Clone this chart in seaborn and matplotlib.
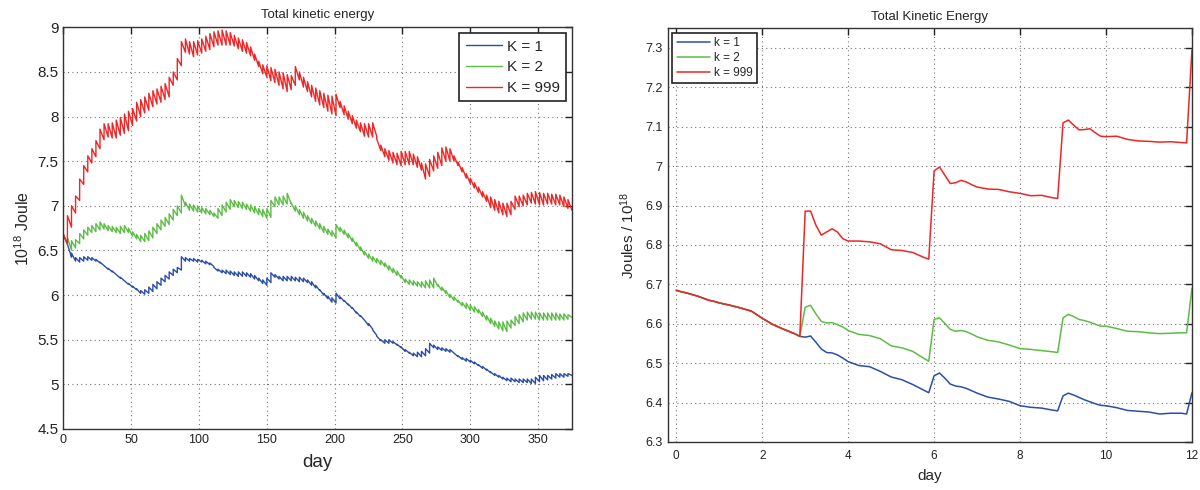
import numpy as np
import pandas as pd
import matplotlib
matplotlib.use("Agg")
import matplotlib.pyplot as plt
import seaborn as sns
from matplotlib.ticker import FormatStrFormatter, FuncFormatter

# ---------- left panel: one saw tooth every 3 days, value at tooth start / tooth end ----------
k1_top = [6.68, 6.57, 6.47, 6.42, 6.42, 6.43, 6.43, 6.42, 6.40, 6.37,
          6.33, 6.30, 6.27, 6.23, 6.20, 6.16, 6.13, 6.10, 6.07, 6.05,
          6.06, 6.09, 6.12, 6.15, 6.19, 6.22, 6.26, 6.29, 6.31, 6.43,
          6.42, 6.41, 6.41, 6.40, 6.39, 6.38, 6.36, 6.31, 6.29, 6.28,
          6.28, 6.27, 6.26, 6.26, 6.26, 6.25, 6.24, 6.22, 6.19, 6.17,
          6.19, 6.25, 6.23, 6.21, 6.21, 6.21, 6.21, 6.20, 6.20, 6.19,
          6.17, 6.15, 6.11, 6.06, 6.02, 5.99, 5.97, 6.02, 5.98, 5.94,
          5.90, 5.86, 5.81, 5.77, 5.72, 5.68, 5.61, 5.54, 5.50, 5.50,
          5.50, 5.48, 5.45, 5.42, 5.39, 5.36, 5.35, 5.36, 5.37, 5.40,
          5.46, 5.44, 5.42, 5.41, 5.40, 5.39, 5.35, 5.32, 5.30, 5.29,
          5.27, 5.25, 5.22, 5.20, 5.17, 5.14, 5.12, 5.10, 5.08, 5.07,
          5.07, 5.06, 5.06, 5.06, 5.06, 5.06, 5.08, 5.10, 5.10, 5.10,
          5.11, 5.12, 5.12, 5.12, 5.12]
k1_bot = [6.57, 6.425, 6.38, 6.37, 6.38, 6.39, 6.39, 6.38, 6.36, 6.33,
          6.29, 6.26, 6.23, 6.19, 6.16, 6.12, 6.09, 6.06, 6.02, 6.01,
          6.02, 6.04, 6.07, 6.11, 6.15, 6.18, 6.22, 6.25, 6.28, 6.38,
          6.38, 6.38, 6.37, 6.37, 6.35, 6.34, 6.32, 6.27, 6.25, 6.24,
          6.23, 6.22, 6.21, 6.21, 6.21, 6.20, 6.18, 6.16, 6.13, 6.11,
          6.14, 6.20, 6.18, 6.16, 6.16, 6.16, 6.16, 6.15, 6.15, 6.14,
          6.11, 6.08, 6.05, 6.00, 5.96, 5.92, 5.91, 5.96, 5.93, 5.89,
          5.85, 5.80, 5.76, 5.72, 5.66, 5.62, 5.55, 5.49, 5.46, 5.46,
          5.46, 5.44, 5.41, 5.37, 5.35, 5.32, 5.31, 5.31, 5.32, 5.35,
          5.41, 5.39, 5.38, 5.37, 5.36, 5.35, 5.31, 5.28, 5.26, 5.25,
          5.23, 5.21, 5.18, 5.16, 5.13, 5.10, 5.08, 5.06, 5.04, 5.03,
          5.03, 5.02, 5.02, 5.02, 5.01, 5.01, 5.03, 5.04, 5.05, 5.06,
          5.07, 5.08, 5.08, 5.09, 5.10]

k2_top = [6.68, 6.645, 6.61, 6.62, 6.69, 6.73, 6.76, 6.78, 6.80, 6.82,
          6.80, 6.78, 6.77, 6.76, 6.77, 6.78, 6.75, 6.71, 6.68, 6.67,
          6.69, 6.72, 6.76, 6.80, 6.84, 6.87, 6.91, 6.96, 7.00, 7.12,
          7.04, 7.02, 7.01, 7.00, 6.98, 6.97, 6.95, 6.92, 6.97, 7.01,
          7.04, 7.07, 7.06, 7.05, 7.04, 7.02, 7.01, 6.99, 6.97, 6.96,
          6.97, 7.06, 7.10, 7.10, 7.11, 7.14, 7.03, 7.00, 6.96, 6.93,
          6.89, 6.86, 6.83, 6.80, 6.77, 6.74, 6.72, 6.79, 6.76, 6.73,
          6.69, 6.64, 6.59, 6.54, 6.49, 6.46, 6.43, 6.41, 6.39, 6.36,
          6.33, 6.30, 6.27, 6.22, 6.18, 6.17, 6.16, 6.15, 6.15, 6.16,
          6.17, 6.19, 6.12, 6.09, 6.05, 6.01, 5.98, 5.94, 5.92, 5.91,
          5.89, 5.87, 5.84, 5.81, 5.77, 5.74, 5.71, 5.70, 5.70, 5.71,
          5.72, 5.76, 5.78, 5.80, 5.81, 5.81, 5.81, 5.80, 5.80, 5.80,
          5.80, 5.80, 5.79, 5.79, 5.78]
k2_bot = [6.57, 6.505, 6.527, 6.577, 6.63, 6.67, 6.70, 6.71, 6.73, 6.74,
          6.72, 6.71, 6.70, 6.69, 6.70, 6.70, 6.66, 6.63, 6.60, 6.60,
          6.61, 6.64, 6.69, 6.73, 6.77, 6.79, 6.84, 6.89, 6.92, 7.00,
          6.95, 6.94, 6.93, 6.92, 6.91, 6.90, 6.88, 6.86, 6.89, 6.93,
          6.96, 6.99, 6.98, 6.97, 6.96, 6.94, 6.92, 6.90, 6.88, 6.86,
          6.87, 6.99, 7.01, 7.01, 7.02, 7.02, 6.94, 6.90, 6.86, 6.83,
          6.80, 6.77, 6.74, 6.70, 6.68, 6.66, 6.64, 6.71, 6.68, 6.64,
          6.60, 6.55, 6.50, 6.45, 6.41, 6.38, 6.36, 6.34, 6.32, 6.28,
          6.25, 6.22, 6.19, 6.14, 6.12, 6.11, 6.10, 6.09, 6.08, 6.08,
          6.08, 6.10, 6.05, 6.02, 5.97, 5.94, 5.92, 5.88, 5.85, 5.83,
          5.81, 5.80, 5.76, 5.72, 5.68, 5.65, 5.62, 5.60, 5.59, 5.63,
          5.66, 5.68, 5.70, 5.72, 5.73, 5.73, 5.72, 5.72, 5.72, 5.72,
          5.72, 5.72, 5.72, 5.73, 5.75]

k999_top = [6.68, 6.89, 7.00, 7.11, 7.30, 7.45, 7.56, 7.64, 7.73, 7.86,
            7.92, 7.92, 7.93, 7.96, 7.99, 8.03, 8.06, 8.09, 8.16, 8.19,
            8.22, 8.26, 8.29, 8.31, 8.34, 8.37, 8.44, 8.50, 8.65, 8.84,
            8.87, 8.84, 8.84, 8.85, 8.87, 8.90, 8.93, 8.95, 8.96, 8.97,
            8.96, 8.94, 8.91, 8.88, 8.86, 8.83, 8.78, 8.70, 8.62, 8.58,
            8.57, 8.55, 8.53, 8.50, 8.49, 8.47, 8.46, 8.56, 8.50, 8.44,
            8.39, 8.35, 8.32, 8.29, 8.26, 8.24, 8.23, 8.25, 8.17, 8.12,
            8.06, 8.01, 7.96, 7.93, 7.92, 7.92, 7.93, 7.75, 7.68, 7.64,
            7.62, 7.60, 7.59, 7.61, 7.61, 7.61, 7.58, 7.55, 7.48, 7.47,
            7.52, 7.56, 7.60, 7.65, 7.66, 7.64, 7.56, 7.49, 7.43, 7.36,
            7.31, 7.26, 7.21, 7.16, 7.12, 7.10, 7.07, 7.05, 7.03, 7.03,
            7.05, 7.11, 7.11, 7.12, 7.14, 7.15, 7.16, 7.15, 7.14, 7.14,
            7.13, 7.13, 7.12, 7.10, 7.07]
k999_bot = [6.57, 6.76, 6.92, 7.06, 7.24, 7.38, 7.48, 7.55, 7.64, 7.74,
            7.77, 7.76, 7.76, 7.79, 7.81, 7.84, 7.90, 7.95, 8.00, 8.04,
            8.07, 8.11, 8.14, 8.16, 8.19, 8.22, 8.35, 8.41, 8.57, 8.72,
            8.70, 8.67, 8.69, 8.71, 8.73, 8.75, 8.78, 8.80, 8.80, 8.80,
            8.80, 8.79, 8.76, 8.73, 8.71, 8.68, 8.63, 8.56, 8.48, 8.44,
            8.40, 8.38, 8.35, 8.31, 8.28, 8.30, 8.35, 8.41, 8.33, 8.28,
            8.22, 8.17, 8.13, 8.10, 8.06, 8.03, 8.01, 8.10, 8.02, 7.97,
            7.92, 7.87, 7.83, 7.78, 7.77, 7.77, 7.78, 7.62, 7.55, 7.51,
            7.48, 7.46, 7.45, 7.46, 7.46, 7.46, 7.43, 7.40, 7.30, 7.33,
            7.39, 7.42, 7.45, 7.50, 7.50, 7.50, 7.45, 7.38, 7.31, 7.25,
            7.20, 7.15, 7.10, 7.05, 6.98, 6.95, 6.92, 6.90, 6.88, 6.90,
            6.96, 6.99, 7.00, 7.01, 7.03, 7.02, 7.01, 7.01, 7.02, 7.02,
            7.01, 7.01, 6.99, 6.97, 6.95]

# ---------- right panel: first 12 days ----------
days_short = [0, 0.125, 0.25, 0.375, 0.5, 0.625, 0.75, 0.875, 1, 1.25, 1.5, 1.75, 2, 2.25, 2.5, 2.75, 2.875,
              3, 3.125, 3.25, 3.375, 3.5, 3.625, 3.75, 3.875, 4, 4.25, 4.5, 4.75, 5, 5.25, 5.5, 5.75, 5.875,
              6, 6.125, 6.25, 6.375, 6.5, 6.625, 6.75, 6.875, 7, 7.25, 7.5, 7.75, 8, 8.25, 8.5, 8.75, 8.875,
              9, 9.125, 9.25, 9.375, 9.5, 9.625, 9.75, 9.875, 10, 10.25, 10.5, 10.75, 11, 11.25, 11.5, 11.75, 11.875,
              12]
first_days = [6.685, 6.681, 6.678, 6.674, 6.670, 6.665, 6.660, 6.657, 6.653, 6.647, 6.640, 6.632, 6.614,
              6.598, 6.586, 6.575, 6.568]
k1_short = first_days + [
    6.566, 6.569, 6.553, 6.536, 6.527, 6.526, 6.521, 6.513, 6.504, 6.494, 6.491, 6.479, 6.465, 6.458, 6.446, 6.432, 6.425,
    6.468, 6.475, 6.462, 6.447, 6.442, 6.440, 6.436, 6.430, 6.424, 6.414, 6.409, 6.403, 6.392, 6.388, 6.386, 6.381, 6.379,
    6.417, 6.424, 6.419, 6.413, 6.407, 6.402, 6.397, 6.393, 6.392, 6.387, 6.380, 6.378, 6.376, 6.371, 6.373, 6.373, 6.371,
    6.425]
k2_short = first_days + [
    6.642, 6.647, 6.625, 6.606, 6.602, 6.603, 6.598, 6.592, 6.583, 6.573, 6.570, 6.562, 6.544, 6.539, 6.530, 6.513, 6.505,
    6.611, 6.615, 6.601, 6.586, 6.581, 6.583, 6.580, 6.574, 6.567, 6.558, 6.554, 6.546, 6.537, 6.535, 6.532, 6.529, 6.527,
    6.615, 6.624, 6.618, 6.611, 6.608, 6.604, 6.599, 6.594, 6.594, 6.588, 6.581, 6.580, 6.577, 6.575, 6.576, 6.577, 6.577,
    6.690]
k999_short = first_days + [
    6.886, 6.886, 6.850, 6.825, 6.833, 6.841, 6.833, 6.816, 6.810, 6.810, 6.808, 6.803, 6.788, 6.786, 6.781, 6.769, 6.764,
    6.988, 6.998, 6.977, 6.956, 6.958, 6.964, 6.960, 6.953, 6.947, 6.942, 6.941, 6.935, 6.931, 6.925, 6.926, 6.920, 6.918,
    7.110, 7.117, 7.104, 7.092, 7.093, 7.095, 7.085, 7.076, 7.075, 7.076, 7.068, 7.064, 7.063, 7.061, 7.062, 7.060, 7.059,
    7.295]

colors = ["#2b4ea6", "#5cbd45", "#ee2626"]


def saw_frame(tops, bots, label):
    start = np.arange(len(tops)) * 3
    x = np.column_stack([start, start + 3]).ravel()
    y = np.column_stack([tops, bots]).ravel()
    return pd.DataFrame({"day": x, "energy": y, "K": label})


def style_axes(ax, tick_size):
    ax.grid(True, color="0.45", linestyle=(0, (1, 3)), linewidth=0.8)
    ax.tick_params(direction="in", length=5, width=1, top=True, right=True,
                   labelsize=tick_size, colors="#222222")
    for s in ax.spines.values():
        s.set_visible(True)
        s.set_color("#333333")
        s.set_linewidth(1.0)


def plot_long_run(ax):
    df = pd.concat([saw_frame(k1_top, k1_bot, "K = 1"),
                    saw_frame(k2_top, k2_bot, "K = 2"),
                    saw_frame(k999_top, k999_bot, "K = 999")])
    sns.lineplot(data=df, x="day", y="energy", hue="K", palette=colors,
                 estimator=None, sort=False, linewidth=1.0, ax=ax)
    ax.set_xlim(0, 375)
    ax.set_ylim(4.5, 9)
    ax.set_xticks(np.arange(0, 351, 50))
    ax.set_yticks(np.arange(4.5, 9.01, 0.5))
    ax.yaxis.set_major_formatter(FuncFormatter(lambda v, p: "%g" % v))
    style_axes(ax, 11)
    ax.tick_params(axis="x", labelsize=9)
    ax.set_title("Total kinetic energy", fontsize=9.5, pad=7)
    ax.set_xlabel("day", fontsize=13.5, labelpad=6)
    ax.set_ylabel(r"10$^{18}$ Joule", fontsize=11.5, labelpad=4)
    leg = ax.legend(loc="upper right", fontsize=11, frameon=True, fancybox=False,
                    handlelength=2.4, handletextpad=0.3, borderpad=0.4,
                    labelspacing=0.45, borderaxespad=0.4, framealpha=1)
    leg.get_frame().set_edgecolor("#222222")
    leg.get_frame().set_linewidth(1.2)


def plot_first_days(ax):
    df = pd.DataFrame({
        "day": days_short * 3,
        "energy": k1_short + k2_short + k999_short,
        "K": ["k = 1"] * len(days_short) + ["k = 2"] * len(days_short) + ["k = 999"] * len(days_short),
    })
    sns.lineplot(data=df, x="day", y="energy", hue="K", palette=colors,
                 estimator=None, sort=False, linewidth=1.1, ax=ax)
    ax.set_xlim(-0.2, 12)
    ax.set_ylim(6.3, 7.35)
    ax.set_xticks(np.arange(0, 13, 2))
    ax.set_yticks(np.arange(6.3, 7.31, 0.1))
    ax.yaxis.set_major_formatter(FuncFormatter(lambda v, p: "%g" % round(v, 1)))
    style_axes(ax, 9)
    ax.tick_params(axis="x", labelsize=8.5, pad=6)
    ax.set_title("Total Kinetic Energy", fontsize=9.5, pad=6)
    ax.set_xlabel("day", fontsize=11, labelpad=5)
    ax.set_ylabel(r"Joules / 10$^{18}$", fontsize=11, labelpad=6)
    leg = ax.legend(loc="upper left", fontsize=8.5, frameon=True, fancybox=False,
                    handlelength=2.8, handletextpad=0.4, borderpad=0.35,
                    labelspacing=0.25, borderaxespad=0.4, framealpha=1)
    leg.get_frame().set_edgecolor("#222222")
    leg.get_frame().set_linewidth(1.2)


###### main ######
sns.set_style("white")
plt.rcParams["font.family"] = ["Liberation Sans", "DejaVu Sans"]
plt.rcParams["mathtext.fontset"] = "custom"
plt.rcParams["mathtext.rm"] = "Liberation Sans"
plt.rcParams["mathtext.it"] = "Liberation Sans"

fig = plt.figure(figsize=(12, 4.9), dpi=100)
ax_left = fig.add_axes([0.0528, 0.1245, 0.4239, 0.8198])
ax_right = fig.add_axes([0.5564, 0.098, 0.4369, 0.8443])

plot_long_run(ax_left)
plot_first_days(ax_right)

fig.savefig("out.png", dpi=100, facecolor="white")
